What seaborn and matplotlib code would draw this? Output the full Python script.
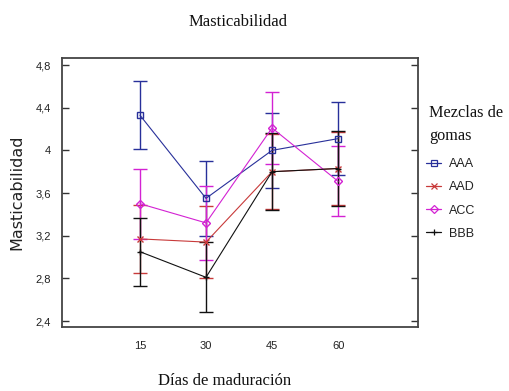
import numpy as np
import pandas as pd
import matplotlib
matplotlib.use("Agg")
import matplotlib.pyplot as plt
import seaborn as sns
from matplotlib.lines import Line2D

# Days of ripening and gum blends
dias = ["15", "30", "45", "60"]
mezclas = ["AAA", "AAD", "ACC", "BBB"]

# Mean chewiness per blend and its interval half-width
aaa_media = [4.33, 3.55, 4.00, 4.11]
aaa_error = [0.32, 0.35, 0.35, 0.34]
aad_media = [3.17, 3.14, 3.80, 3.83]
aad_error = [0.32, 0.34, 0.35, 0.34]
acc_media = [3.50, 3.32, 4.21, 3.71]
acc_error = [0.33, 0.35, 0.34, 0.33]
bbb_media = [3.05, 2.81, 3.80, 3.83]
bbb_error = [0.32, 0.33, 0.36, 0.35]

y_ticks = [2.4, 2.8, 3.2, 3.6, 4.0, 4.4, 4.8]
y_tick_labels = ["2,4", "2,8", "3,2", "3,6", "4", "4,4", "4,8"]

medias = {"AAA": aaa_media, "AAD": aad_media, "ACC": acc_media, "BBB": bbb_media}
errores = {"AAA": aaa_error, "AAD": aad_error, "ACC": acc_error, "BBB": bbb_error}

colores = {"AAA": "#28309a", "AAD": "#c83a3a", "ACC": "#d322d3", "BBB": "#111111"}
marcadores = {"AAA": "s", "AAD": "x", "ACC": "D", "BBB": "+"}

rows = []
for m in mezclas:
    for i, d in enumerate(dias):
        rows.append({"pos": i, "dia": d, "mezcla": m,
                     "media": medias[m][i], "error": errores[m][i]})
df = pd.DataFrame(rows)

sns.set_theme(style="white")
plt.rcParams["font.family"] = ["Liberation Sans", "DejaVu Sans"]

fig = plt.figure(figsize=(5.09, 3.91), dpi=100)
ax = fig.add_axes([62 / 509, 1 - 327 / 391, (418 - 62) / 509, (327 - 58) / 391])

# error bars first, then each blend's line with its markers on top
for m in mezclas:
    sub = df[df["mezcla"] == m]
    ax.errorbar(sub["pos"], sub["media"], yerr=sub["error"], fmt="none",
                ecolor=colores[m], elinewidth=1.0, capsize=5, capthick=1.0,
                zorder=2)

for m in mezclas:
    sub = df[df["mezcla"] == m]
    hollow = marcadores[m] in ("s", "D")
    sns.lineplot(data=sub, x="pos", y="media", color=colores[m],
                 marker=marcadores[m], linewidth=0.8, markersize=4.5,
                 markerfacecolor="none" if hollow else colores[m],
                 markeredgecolor=colores[m], markeredgewidth=1.0,
                 legend=False, ax=ax, zorder=3)

ax.set_xlim(-1.18, 4.21)
ax.set_ylim(2.344, 4.866)
ax.set_xticks(range(len(dias)))
ax.set_xticklabels(dias)
ax.set_yticks(y_ticks)
ax.set_yticklabels(y_tick_labels)

ax.tick_params(axis="x", length=0, pad=10, labelsize=8)
ax.tick_params(axis="y", direction="in", length=5, width=1, pad=8,
               labelsize=8, colors="#333333", left=True, right=True)
for lab in ax.get_yticklabels() + ax.get_xticklabels():
    lab.set_color("#222222")

for sp in ax.spines.values():
    sp.set_visible(True)
    sp.set_color("#444444")
    sp.set_linewidth(1.3)

ax.set_xlabel("")
ax.set_ylabel("")

fig.text(238 / 509, 1 - 22 / 391, "Masticabilidad", ha="center", va="center",
         family="Liberation Serif", fontsize=12, color="#111111")
fig.text(225 / 509, 1 - 381 / 391, "Días de maduración", ha="center",
         va="center", family="Liberation Serif", fontsize=12, color="#111111")
fig.text(17 / 509, 1 - 192 / 391, "Masticabilidad", ha="center", va="center",
         rotation=90, family="DejaVu Sans", fontsize=11.5, color="#222222")

# legend heading, two lines
fig.text(429 / 509, 1 - 113 / 391, "Mezclas de", ha="left", va="center",
         family="Liberation Serif", fontsize=11.7, color="#111111")
fig.text(429 / 509, 1 - 136 / 391, "gomas", ha="left", va="center",
         family="Liberation Serif", fontsize=11.7, color="#111111")

handles = [Line2D([0], [0], color=colores[m], marker=marcadores[m],
                  markersize=4, linewidth=0.9, markerfacecolor="none",
                  markeredgecolor=colores[m], markeredgewidth=0.9)
           for m in mezclas]
leg = fig.legend(handles, mezclas,
                 loc="upper left", bbox_to_anchor=(426 / 509, 1 - 158 / 391),
                 frameon=False, fontsize=9, handlelength=1.2,
                 handletextpad=0.65, labelspacing=0.9, borderpad=0,
                 borderaxespad=0)
for t in leg.get_texts():
    t.set_color("#222222")

fig.savefig("out.png", dpi=100)
